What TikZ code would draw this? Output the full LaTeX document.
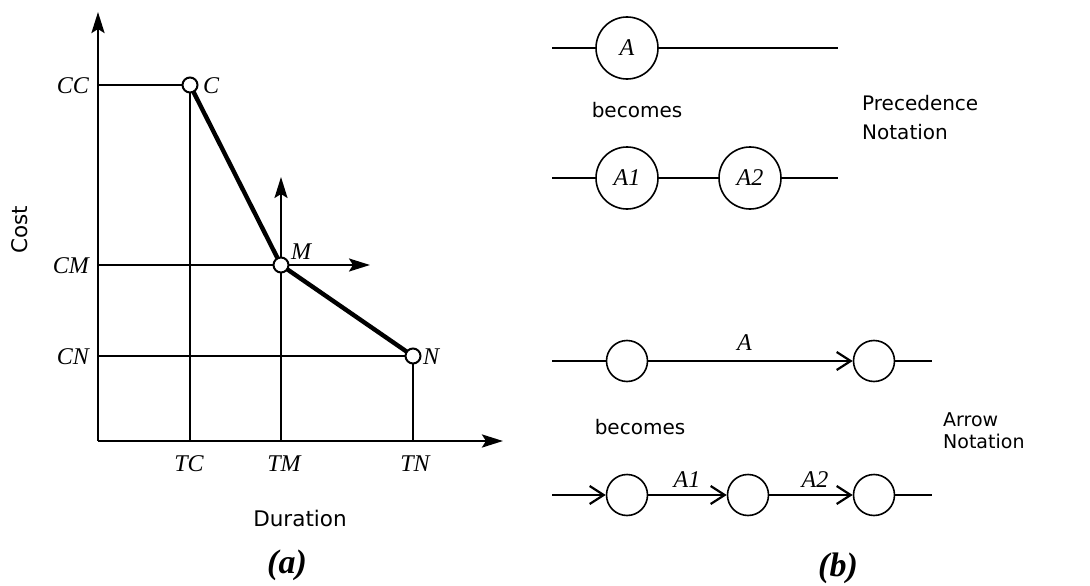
\documentclass[tikz,border=0pt]{standalone}
\usepackage{fontspec}
\setmainfont{Liberation Serif}
\newfontfamily\sansf{DejaVu Sans}
\usetikzlibrary{arrows.meta}
\pgfdeclarelayer{bg}
\pgfsetlayers{bg,main}
\tikzset{
  lbl/.style={font=\fontsize{24}{28}\selectfont\itshape, inner sep=0pt},
  stxt/.style={font=\sansf\fontsize{20}{29}\selectfont, inner sep=0pt},
  axtip/.style={-{Stealth[length=21pt,width=13pt,inset=4pt]}},
  axis/.style={line width=2.8pt, axtip},
  grid/.style={line width=2.2pt},
  thickln/.style={line width=4.4pt},
  pt/.style={circle, draw, fill=white, line width=2pt, minimum size=15pt, inner sep=0pt},
  bigc/.style={circle, draw, fill=white, line width=1.6pt, minimum size=62pt, inner sep=0pt, font=\fontsize{24}{28}\selectfont\itshape},
  smc/.style={circle, draw, fill=white, line width=1.6pt, minimum size=41pt, inner sep=0pt},
  net/.style={line width=2.6pt},
  arr/.style={line width=2.6pt, -{Straight Barb[length=14pt,width=18pt,line width=2.2pt]}},
  captxt/.style={font=\fontsize{34}{38}\selectfont\bfseries\itshape, inner sep=0pt}
}
\begin{document}
\begin{tikzpicture}[x=1pt,y=-1pt]
\useasboundingbox (0,0) rectangle (1090,586);
% ---------- (a) ----------
\coordinate (O) at (98,441);
\coordinate (Ytop) at (98,12);
\coordinate (Xend) at (503,441);
\node[pt] (C) at (190,85) {};
\node[pt] (M) at (281,265) {};
\node[pt] (N) at (413,356) {};
\coordinate (CCp) at (98,85);
\coordinate (TCp) at (190,441);
\coordinate (CMp) at (98,265);
\coordinate (CMend) at (370,265);
\coordinate (TMp) at (281,441);
\coordinate (TMtop) at (281,177);
\coordinate (CNp) at (98,356);
\coordinate (TNp) at (413,441);
\begin{pgfonlayer}{bg}
\draw[axis] (O) -- (Ytop);
\draw[axis] (O) -- (Xend);
\draw[grid] (CCp) -- (C.center);
\draw[grid] (C.center) -- (TCp);
\draw[grid,axtip] (CMp) -- (CMend);
\draw[grid,axtip] (TMp) -- (TMtop);
\draw[grid] (CNp) -- (N.center);
\draw[grid] (N.center) -- (TNp);
\draw[thickln] (C.center) -- (M.center) -- (N.center);
\end{pgfonlayer}
\node[lbl, anchor=east] (lCC) at (89,86) {CC};
\node[lbl, anchor=east] (lCM) at (89,266) {CM};
\node[lbl, anchor=east] (lCN) at (89,357) {CN};
\node[lbl] (lTC) at (189,464) {TC};
\node[lbl] (lTM) at (284,464) {TM};
\node[lbl] (lTN) at (415,464) {TN};
\node[lbl, anchor=west] (lC) at (203,86) {C};
\node[lbl, anchor=west] (lM) at (291,252) {M};
\node[lbl, anchor=west] (lN) at (423,357) {N};
\node[stxt, font=\sansf\fontsize{21.5}{25}\selectfont, rotate=90] (cost) at (20,230) {Cost};
\node[stxt, font=\sansf\fontsize{21.5}{25}\selectfont] (dur) at (300,518) {Duration};
\node[captxt] (capa) at (287,565) {(a)};
% ---------- (b) precedence ----------
\node[bigc] (A) at (627,48) {A};
\coordinate (p0) at (552,48);
\coordinate (p1) at (838,48);
\draw[net] (p0) -- (A) -- (p1);
\node[stxt] (bec1) at (637,110) {becomes};
\node[stxt, anchor=west, align=left] (prec) at (862,118) {Precedence\\Notation};
\node[bigc] (A1) at (627,178) {A1};
\node[bigc] (A2) at (750,178) {A2};
\coordinate (q0) at (552,178);
\coordinate (q1) at (838,178);
\draw[net] (q0) -- (A1) -- (A2) -- (q1);
% ---------- (b) arrow ----------
\node[smc] (E1) at (627,361) {};
\node[smc] (E2) at (874,361) {};
\coordinate (r0) at (552,361);
\coordinate (r1) at (932,361);
\draw[net] (r0) -- (E1);
\draw[arr] (E1) -- node[lbl, above=9pt, pos=0.47] (lA) {A} (E2);
\draw[net] (E2) -- (r1);
\node[stxt] (bec2) at (640,427) {becomes};
\node[stxt, anchor=west, align=left, font=\sansf\fontsize{19}{22}\selectfont] (arrn) at (943,431) {Arrow\\Notation};
\node[smc] (F1) at (627,495) {};
\node[smc] (F2) at (748,495) {};
\node[smc] (F3) at (874,495) {};
\coordinate (s0) at (552,495);
\coordinate (s1) at (932,495);
\draw[arr] (s0) -- (F1);
\draw[arr] (F1) -- (F2);
\draw[arr] (F2) -- (F3);
\draw[net] (F3) -- (s1);
\node[lbl] (lA1) at (687,480) {A1};
\node[lbl] (lA2) at (815,480) {A2};
\node[captxt] (capb) at (838,568) {(b)};
\end{tikzpicture}
\end{document}
